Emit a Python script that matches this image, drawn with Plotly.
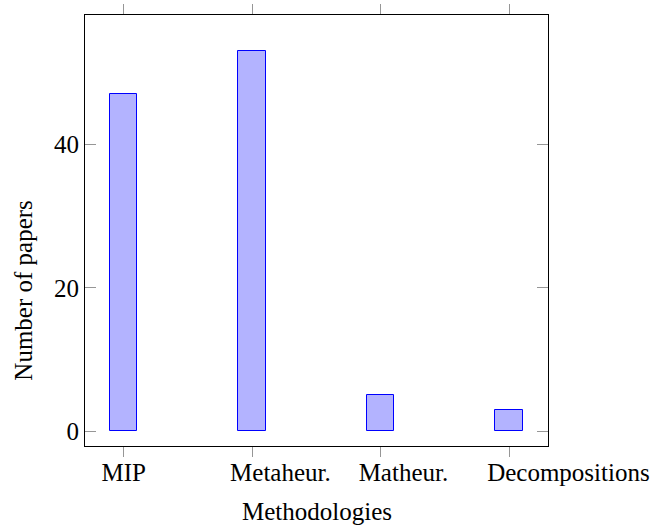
import plotly.graph_objects as go

categories = ["MIP", "Metaheur.", "Matheur.", "Decompositions"]
papers = [47, 53, 5, 3]
y_ticks = [0, 20, 40]

FONT = "Liberation Serif"
fs = 25

L, R, T, B = 85.3, 104, 15, 81
W, H = 652, 527
pw, ph = W - L - R, H - T - B

fig = go.Figure()
fig.add_trace(go.Bar(
    x=list(range(len(categories))),
    y=papers,
    width=0.213,
    marker=dict(color="rgb(179,179,255)", line=dict(color="rgb(0,0,255)", width=1)),
))

fig.update_layout(
    width=W, height=H,
    margin=dict(l=L, r=R, t=T, b=B, autoexpand=False),
    plot_bgcolor="white", paper_bgcolor="white",
    font=dict(family=FONT, size=fs, color="black"),
    showlegend=False,
    bargap=0,
)
fig.update_xaxes(
    range=[-0.3, 3.302],
    tickmode="array", tickvals=list(range(len(categories))), ticktext=categories,
    tickangle=0, ticklabelposition="outside right", ticklabelshift=-23,
    ticklabelstandoff=4,
    ticks="outside", ticklen=10, tickcolor="rgb(150,150,150)", tickwidth=1,
    showline=True, linecolor="black", linewidth=1, mirror="ticks",
    showgrid=False, zeroline=False, automargin=False,
    tickfont=dict(family=FONT, size=fs),
)
fig.update_yaxes(
    range=[-2.05, 58.05],
    tickmode="array", tickvals=y_ticks,
    ticks="inside", ticklen=11, tickcolor="rgb(150,150,150)", tickwidth=1,
    showline=True, linecolor="black", linewidth=1, mirror="ticks",
    showgrid=False, zeroline=False, automargin=False,
    tickfont=dict(family=FONT, size=fs),
)

fig.add_annotation(text="Methodologies", xref="paper", yref="paper",
                   x=(316.7 - L) / pw, y=(H - B - 511) / ph,
                   xanchor="center", yanchor="middle", showarrow=False,
                   font=dict(family=FONT, size=fs))
fig.add_annotation(text="Number of papers", xref="paper", yref="paper",
                   x=(23 - L) / pw, y=(H - B - 290) / ph, textangle=-90,
                   xanchor="center", yanchor="middle", showarrow=False,
                   font=dict(family=FONT, size=fs))

fig.write_html("out.html")
